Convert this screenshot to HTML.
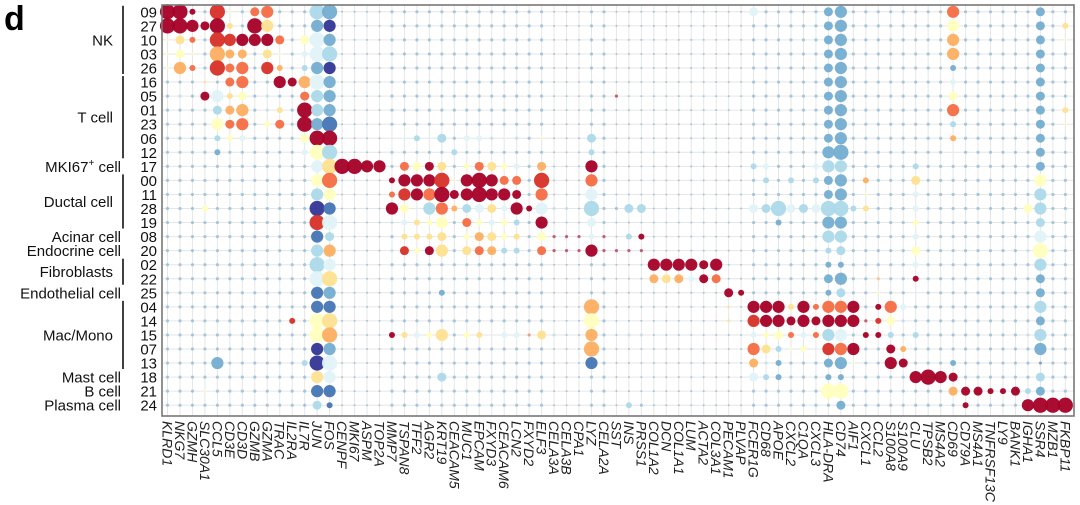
<!DOCTYPE html>
<html><head><meta charset="utf-8">
<style>
html,body{margin:0;padding:0;background:#fff;width:1080px;height:505px;overflow:hidden}
svg{display:block;font-family:"Liberation Sans",Arial,sans-serif}
</style></head>
<body>
<svg id="chart" width="1080" height="505" viewBox="0 0 1080 505" xmlns="http://www.w3.org/2000/svg">
<text x="4" y="30" font-size="34" font-weight="bold">d</text>
<g id="grid"></g>
<g id="dots"></g>
<g id="ylab"></g>
<g id="xlab"></g>
<g id="groups"></g>
<rect x="162" y="5" width="912" height="411" fill="none" stroke="#777" stroke-width="1.6"/>
</svg>
<script>
const genes = ["KLRD1","NKG7","GZMH","SLC30A1","CCL5","CD3E","CD3D","GZMB","GZMA","TRAC","IL2RA","IL7R","JUN","FOS","CENPF","MKI67","ASPM","TOP2A","MMP7","TSPAN8","TFF2","AGR2","KRT19","CEACAM5","MUC1","EPCAM","FXYD3","CEACAM6","LCN2","FXYD2","ELF3","CELA3A","CELA3B","CPA1","LYZ","CELA2A","SST","INS","PRSS1","COL1A2","DCN","COL1A1","LUM","ACTA2","COL3A1","PECAM1","PLVAP","FCER1G","CD68","APOE","CXCL2","C1QA","CXCL3","HLA-DRA","CD74","AIF1","CXCL1","CCL2","S100A8","S100A9","CLU","TPSB2","MS4A2","CD69","CD79A","MS4A1","TNFRSF13C","LY9","BANK1","IGHA1","SSR4","MZB1","FKBP11"];
const clusters = ["09","27","10","03","26","16","05","01","23","06","12","17","00","11","28","19","08","20","02","22","25","04","14","15","07","13","18","21","24"];
const groupNames = ["NK","T cell","MKI67+ cell","Ductal cell","Acinar cell","Endocrine cell","Fibroblasts","Endothelial cell","Mac/Mono","Mast cell","B cell","Plasma cell"];
const groupStart = [0,5,11,12,16,17,18,20,21,26,27,28];
const groupEnd   = [4,10,11,15,16,17,19,20,25,26,27,28];
// baseline percent level per gene (background dots)
const basePct = "1111111111111100001111111111111000110000000000011111134111111111111111311";
// [clusterIndex, geneIndex, pctLevel(0-5), exprLevel(0-10)]
const hits = [
[0,0,5,10],[0,1,5,10],[0,2,2,10],[0,4,5,9],[0,5,1,5],[0,7,3,8],[0,8,4,8],[0,12,5,3],[0,13,5,2],
[1,0,5,10],[1,1,5,10],[1,2,4,10],[1,3,3,10],[1,4,5,10],[1,5,2,6],[1,7,5,10],[1,8,4,6],[1,12,4,2],[1,13,4,0],
[2,0,1,5],[2,1,3,6],[2,2,2,8],[2,4,5,9],[2,5,4,9],[2,6,4,10],[2,7,4,10],[2,8,4,10],[2,9,3,8],[2,11,3,5],[2,12,5,4],[2,13,4,2],
[3,0,1,5],[3,1,3,5],[3,2,1,5],[3,4,5,7],[3,5,3,7],[3,6,3,7],[3,8,3,6],[3,9,1,5],[3,11,2,4],[3,12,5,4],[3,13,5,3],
[4,0,1,5],[4,1,4,7],[4,2,2,8],[4,4,5,9],[4,5,3,8],[4,6,4,8],[4,8,4,9],[4,9,2,7],[4,11,2,3],[4,12,4,2],[4,13,4,0],
[5,3,1,6],[5,5,3,8],[5,6,4,8],[5,9,4,10],[5,10,3,10],[5,11,4,7],[5,12,5,4],[5,13,4,2],
[6,1,1,3],[6,3,3,10],[6,4,4,4],[6,5,2,6],[6,6,3,5],[6,8,1,3],[6,11,3,8],[6,12,4,3],[6,13,4,2],[6,36,1,10],
[7,1,1,2],[7,4,3,3],[7,5,3,7],[7,6,4,7],[7,8,1,3],[7,9,2,6],[7,11,5,10],[7,12,4,3],[7,13,4,2],
[8,1,1,2],[8,4,4,5],[8,5,3,8],[8,6,4,8],[8,8,2,5],[8,9,3,8],[8,11,5,10],[8,12,4,2],[8,13,5,1],
[9,1,1,2],[9,4,2,3],[9,5,2,5],[9,6,2,4],[9,11,3,5],[9,12,5,10],[9,13,5,10],
[9,18,1,4],[9,19,1,4],[9,20,2,3],[9,21,1,4],[9,22,3,3],[9,24,2,4],[9,25,2,4],[9,26,1,3],[9,27,1,4],[9,28,1,3],[9,30,1,5],[9,34,3,3],
[10,4,2,2],[10,11,2,4],[10,12,5,5],[10,13,5,3],[10,23,2,3],[10,34,2,3],[10,53,4,2],[10,54,5,2],
[11,12,4,4],[11,13,5,6],[11,14,5,10],[11,15,5,10],[11,16,4,10],[11,17,4,10],
[11,19,3,8],[11,20,3,5],[11,21,3,10],[11,22,3,6],[11,24,2,5],[11,25,3,8],[11,26,3,6],[11,27,2,5],[11,28,2,4],[11,30,3,7],[11,34,4,10],
[11,47,2,3],[11,48,2,4],[11,52,2,4],[11,53,4,3],[11,54,4,3],[11,60,2,3],[11,63,1,2],
[12,12,4,5],[12,13,5,8],[12,18,2,10],[12,19,4,10],[12,20,4,10],[12,21,4,10],[12,22,5,9],[12,23,1,5],[12,24,4,10],[12,25,5,10],[12,26,4,10],[12,27,3,8],[12,28,3,8],[12,30,5,9],[12,34,4,8],
[12,48,2,3],[12,50,2,3],[12,52,2,3],[12,56,2,7],[12,60,3,6],[12,70,4,5],
[13,12,4,3],[13,13,4,5],[13,18,2,8],[13,19,4,9],[13,20,4,10],[13,21,4,8],[13,22,5,10],[13,23,3,10],[13,24,4,10],[13,25,5,10],[13,26,4,10],[13,27,4,10],[13,28,3,10],[13,30,4,8],[13,34,4,4],
[13,56,1,5],[13,60,2,4],[13,70,4,3],
[14,3,2,5],[14,12,5,0],[14,13,4,1],[14,18,4,10],[14,19,3,5],[14,20,1,4],[14,21,4,3],[14,22,4,8],[14,23,2,7],[14,24,3,3],[14,25,3,4],[14,26,3,6],[14,27,2,4],[14,28,4,10],[14,29,2,10],[14,30,4,4],[14,31,1,3],[14,32,1,3],[14,34,5,3],[14,36,1,2],[14,37,3,3],[14,38,3,3],
[14,47,3,4],[14,48,3,3],[14,49,5,3],[14,50,3,4],[14,51,3,3],[14,52,3,4],[14,53,5,3],[14,54,5,3],[14,55,2,3],[14,56,2,6],[14,58,1,2],[14,59,1,2],[14,60,2,4],[14,69,3,5],[14,70,4,3],
[15,12,5,9],[15,13,5,4],[15,18,1,3],[15,19,2,4],[15,20,2,6],[15,21,2,5],[15,22,4,5],[15,24,3,8],[15,25,2,5],[15,26,2,4],[15,27,2,5],[15,28,2,3],[15,30,4,10],[15,34,3,4],[15,49,2,2],[15,53,4,2],[15,54,4,2],[15,60,2,5],[15,70,3,3],
[16,12,4,1],[16,13,3,3],[16,19,2,6],[16,20,2,6],[16,21,2,6],[16,22,3,6],[16,24,2,5],[16,25,3,7],[16,26,3,6],[16,27,2,5],[16,28,2,6],[16,30,3,5],[16,31,1,10],[16,32,1,10],[16,33,1,10],[16,34,2,4],[16,35,1,10],[16,37,2,3],[16,38,2,10],[16,53,4,3],[16,54,4,3],[16,60,2,4],[16,70,4,4],
[17,12,4,3],[17,13,4,7],[17,18,1,3],[17,19,3,9],[17,20,2,5],[17,21,3,10],[17,22,4,6],[17,24,3,6],[17,25,3,8],[17,26,3,7],[17,27,2,3],[17,28,2,3],[17,30,3,8],[17,31,1,10],[17,32,1,10],[17,33,1,10],[17,34,4,10],[17,35,1,10],[17,36,1,10],[17,37,1,10],[17,38,1,10],[17,53,2,3],[17,54,3,3],[17,60,3,5],[17,69,1,3],[17,70,5,5],
[18,12,5,3],[18,13,4,4],[18,39,4,10],[18,40,4,10],[18,41,4,10],[18,42,4,10],[18,43,3,10],[18,44,4,10],[18,53,2,2],[18,54,2,2],[18,60,2,4],[18,70,4,3],
[19,12,5,4],[19,13,5,6],[19,39,3,7],[19,40,3,6],[19,41,3,7],[19,42,2,4],[19,43,3,10],[19,44,3,8],[19,57,1,7],[19,60,2,10],[19,70,3,2],
[20,12,4,1],[20,13,4,2],[20,22,2,2],[20,45,3,10],[20,46,2,10],[20,53,2,2],[20,54,3,3],[20,57,1,5],[20,60,1,4],[20,70,3,2],
[21,11,1,2],[21,12,4,1],[21,13,4,1],[21,34,5,7],[21,45,1,6],[21,47,4,10],[21,48,4,10],[21,49,4,10],[21,50,2,6],[21,51,4,10],[21,52,2,8],[21,53,4,8],[21,54,4,8],[21,55,4,10],[21,57,2,10],[21,58,4,8],[21,59,2,4],[21,70,4,3],
[22,10,2,9],[22,11,1,2],[22,12,5,5],[22,13,5,6],[22,34,5,5],[22,45,1,6],[22,47,4,9],[22,48,4,10],[22,49,4,10],[22,50,3,10],[22,51,4,10],[22,52,3,10],[22,53,4,10],[22,54,4,10],[22,55,4,10],[22,56,1,10],[22,57,2,9],[22,58,3,5],[22,59,1,3],[22,70,3,2],
[23,12,5,5],[23,13,5,7],[23,18,2,10],[23,19,2,6],[23,20,2,4],[23,21,2,5],[23,22,4,6],[23,24,2,5],[23,25,2,6],[23,26,1,4],[23,27,2,4],[23,28,2,4],[23,29,1,8],[23,30,3,6],[23,31,1,3],[23,34,4,7],[23,37,1,3],[23,38,1,3],
[23,47,2,4],[23,48,2,5],[23,49,3,5],[23,50,2,8],[23,51,2,4],[23,52,2,8],[23,53,4,3],[23,54,4,4],[23,56,2,10],[23,57,2,10],[23,58,2,3],[23,60,2,3],[23,69,1,3],[23,70,4,3],
[24,12,4,0],[24,13,4,2],[24,34,5,7],[24,47,4,8],[24,48,3,6],[24,49,2,3],[24,50,1,5],[24,51,2,5],[24,52,1,4],[24,53,4,9],[24,54,4,8],[24,55,4,10],[24,58,3,10],[24,59,2,7],[24,70,4,2],
[25,4,4,2],[25,11,2,3],[25,12,5,0],[25,13,5,4],[25,34,4,1],[25,47,3,7],[25,48,1,3],[25,49,2,2],[25,53,3,2],[25,54,4,2],[25,55,1,5],[25,58,4,10],[25,59,3,10],[25,63,2,2],[25,70,1,1],
[26,12,4,6],[26,13,4,4],[26,22,3,3],[26,47,3,4],[26,48,2,3],[26,49,2,2],[26,53,2,2],[26,54,2,2],[26,60,4,10],[26,61,5,10],[26,62,4,10],[26,63,3,10],[26,70,3,3],
[27,3,1,5],[27,12,4,1],[27,13,4,1],[27,53,5,5],[27,54,5,5],[27,63,3,7],[27,64,3,10],[27,65,3,10],[27,66,2,10],[27,67,2,10],[27,68,3,10],[27,69,2,3],[27,70,3,2],
[28,12,3,3],[28,13,2,1],[28,37,2,3],[28,38,1,2],[28,53,1,2],[28,54,3,2],[28,64,2,10],[28,69,4,10],[28,70,5,10],[28,71,5,10],[28,72,5,10],
[0,63,4,8],[1,63,4,5],[2,63,4,7],[3,63,4,7],[4,63,2,2],[5,63,2,4],[6,63,3,5],[7,63,4,8],[8,63,2,3],[9,63,2,7],[10,63,1,4],
[0,47,3,4],[1,72,2,6],[2,72,1,5],[7,72,2,6],[8,72,1,5]
];
const palette = ["#313695","#4575b4","#74add1","#abd9e9","#e0f3f8","#ffffbf","#fee090","#fdae61","#f46d43","#d73027","#a50026"];
const radius = [1.0,1.6,3.0,4.5,6.1,7.6];

const NS = "http://www.w3.org/2000/svg";
const x0 = 167.5, dx = 12.47, y0 = 11.8, dy = 14.05;
function xScale(i){ return x0 + dx*i; }
function yScale(r){ return y0 + dy*r; }
function mk(tag, attrs, parent){ const e=document.createElementNS(NS,tag); for(const k in attrs) e.setAttribute(k,attrs[k]); parent.appendChild(e); return e; }

const grid = document.getElementById('grid');
genes.forEach((g,i)=>{
  const l = mk('line',{x1:xScale(i),x2:xScale(i),y1:5,y2:416,stroke:'#e6e6e6','stroke-width':1},grid);
  
  
});
clusters.forEach((c,r)=>{
  const l = mk('line',{x1:162,x2:1074,y1:yScale(r),y2:yScale(r),stroke:'#e6e6e6','stroke-width':1},grid);
  
  
});

const cells = clusters.map(()=>genes.map((g,i)=>[+basePct[i],2]));
hits.forEach(h=>{ cells[h[0]][h[1]] = [h[2],h[3]]; });

const dots = document.getElementById('dots');
cells.forEach((row,r)=>{
  row.forEach((v,i)=>{
    const c = mk('circle',{cx:xScale(i),cy:yScale(r),r:radius[v[0]],fill:palette[v[1]],'fill-opacity':v[0]<=1?0.6:0.95},dots);
    
    
  });
});

const ylab = document.getElementById('ylab');
clusters.forEach((c,r)=>{
  const t = mk('text',{x:157,y:yScale(r)+5.5,'text-anchor':'end','font-size':15,fill:'#111'},ylab);
  t.textContent = c;
  
  
});

const xlab = document.getElementById('xlab');
genes.forEach((g,i)=>{
  const t = mk('text',{transform:'translate('+(xScale(i)-5)+',421) rotate(90)','font-size':14,'font-style':'italic',fill:'#222'},xlab);
  t.textContent = g;
  
  
});

const groups = document.getElementById('groups');
groupNames.forEach((n,k)=>{
  const a = groupStart[k], b = groupEnd[k];
  const multi = b > a;
  const yc = (yScale(a)+yScale(b))/2;
  if(multi){
    const l = mk('line',{x1:123,x2:123,y1:yScale(a)-6,y2:yScale(b)+6,stroke:'#111','stroke-width':1.6},groups);
    
    
  }
  const t = mk('text',{x:multi?113:121,y:yc+5.5,'text-anchor':'end','font-size':15,fill:'#111'},groups);
  if(n==="MKI67+ cell"){
    t.appendChild(document.createTextNode('MKI67'));
    const s = mk('tspan',{'font-size':10,dy:-6},t); s.textContent='+';
    const s2 = mk('tspan',{dy:6},t); s2.textContent=' cell';
  } else t.textContent = n;
  
  
});
</script>
</body></html>
